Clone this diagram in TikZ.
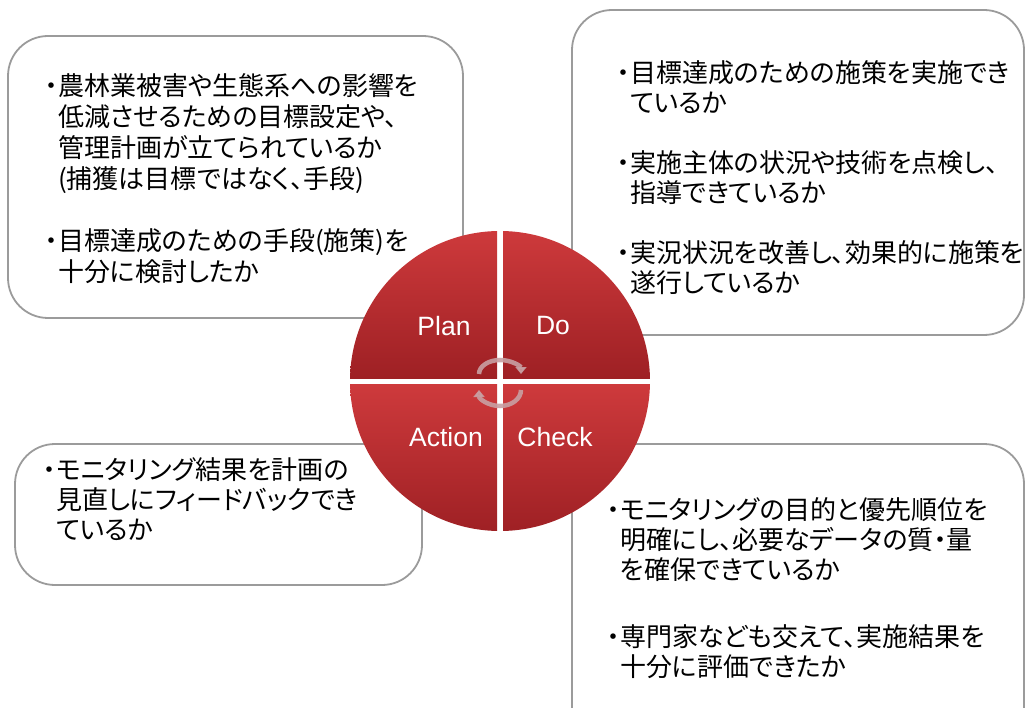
\documentclass[tikz,border=0pt]{standalone}
\usepackage{fontspec}
\usepackage{tikz}
\usetikzlibrary{arrows.meta}
\newfontfamily\jpfont[RawFeature=+palt]{Noto Sans CJK JP}
\newfontfamily\labfont{Liberation Sans}
\definecolor{pdcalight}{RGB}{206,58,60}
\definecolor{pdcadark}{RGB}{158,32,36}
\definecolor{framegray}{RGB}{155,155,155}
\definecolor{cyclegray}{RGB}{200,160,163}
\newcommand{\ind}{\hspace*{0.5em}}

\begin{document}
\begin{tikzpicture}[x=1pt, y=-1pt,
  panel/.style={draw=framegray, line width=1.8pt, rounded corners=40pt, fill=white, inner sep=0pt},
  memo/.style={anchor=base west, align=left, inner sep=0pt, font=\jpfont\fontsize{26}{#1}\selectfont},
  memo/.default=30,
  phase/.style={text=white, inner sep=0pt, font=\labfont\fontsize{26.5}{30}\selectfont},
  cycle/.style={draw=cyclegray, opacity=0.9, line width=4.5pt, -{Triangle[length=7pt,width=11pt]}}]

\useasboundingbox (0,0) rectangle (1027,708);
\clip (0,0) rectangle (1027,708);

 % Frames
  \node[panel, minimum width=455, minimum height=282] (boxplan) at (235.5,177) {};
  \node[panel, minimum width=452, minimum height=325] (boxdo) at (798,172.5) {};
  \node[panel, minimum width=407, minimum height=141] (boxact) at (218.5,514.5) {};
  \node[panel, minimum width=452, minimum height=316] (boxcheck) at (798,602) {};

  % Texts in the frames (placed at the baseline of their last line)
  \node[memo=31] (txtplan) at (45,281.5) {・農林業被害や生態系への影響を\\
    \ind 低減させるための目標設定や、\\
    \ind 管理計画が立てられているか\\
    \ind(捕獲は目標ではなく、手段)\\[31pt]
    ・目標達成のための手段(施策)を\\
    \ind 十分に検討したか};
  \node[memo] (txtdo) at (617,292.5) {・目標達成のための施策を実施でき\\
    \ind ているか\\[30pt]
    ・実施主体の状況や技術を点検し、\\
    \ind 指導できているか\\[30pt]
    ・実況状況を改善し、効果的に施策を\\
    \ind 遂行しているか};
  \node[memo] (txtact) at (43,539.5) {・モニタリング結果を計画の\\
    \ind 見直しにフィードバックでき\\
    \ind ているか};
  \node[memo] (txtcheck) at (607,676.5) {・モニタリングの目的と優先順位を\\
    \ind 明確にし、必要なデータの質・量\\
    \ind を確保できているか\\[37pt]
    ・専門家なども交えて、実施結果を\\
    \ind 十分に評価できたか};

  % Quadrants of the circle
  \coordinate (hub) at (500,381);
  \begin{scope}
    \clip (hub) circle[radius=150];
    \shade[top color=pdcalight, bottom color=pdcadark] (349,229) rectangle (497,378);
    \shade[top color=pdcalight, bottom color=pdcadark] (503,229) rectangle (651,378);
    \shade[top color=pdcalight, bottom color=pdcadark] (349,384) rectangle (497,533);
    \shade[top color=pdcalight, bottom color=pdcadark] (503,384) rectangle (651,533);
  \end{scope}

  \node[phase] (plan) at (444,326) {Plan};
  \node[phase] (do) at (553,326) {Do};
  \node[phase] (action) at (446,437) {Action};
  \node[phase] (check) at (555,437) {Check};

  % Cycle arrows
  \draw[cycle] ([shift={(-21,-7)}]hub) arc[start angle=180, end angle=360, x radius=21, y radius=14];
  \draw[cycle] ([shift={(21,9)}]hub) arc[start angle=0, end angle=180, x radius=21, y radius=16];
\end{tikzpicture}
\end{document}
